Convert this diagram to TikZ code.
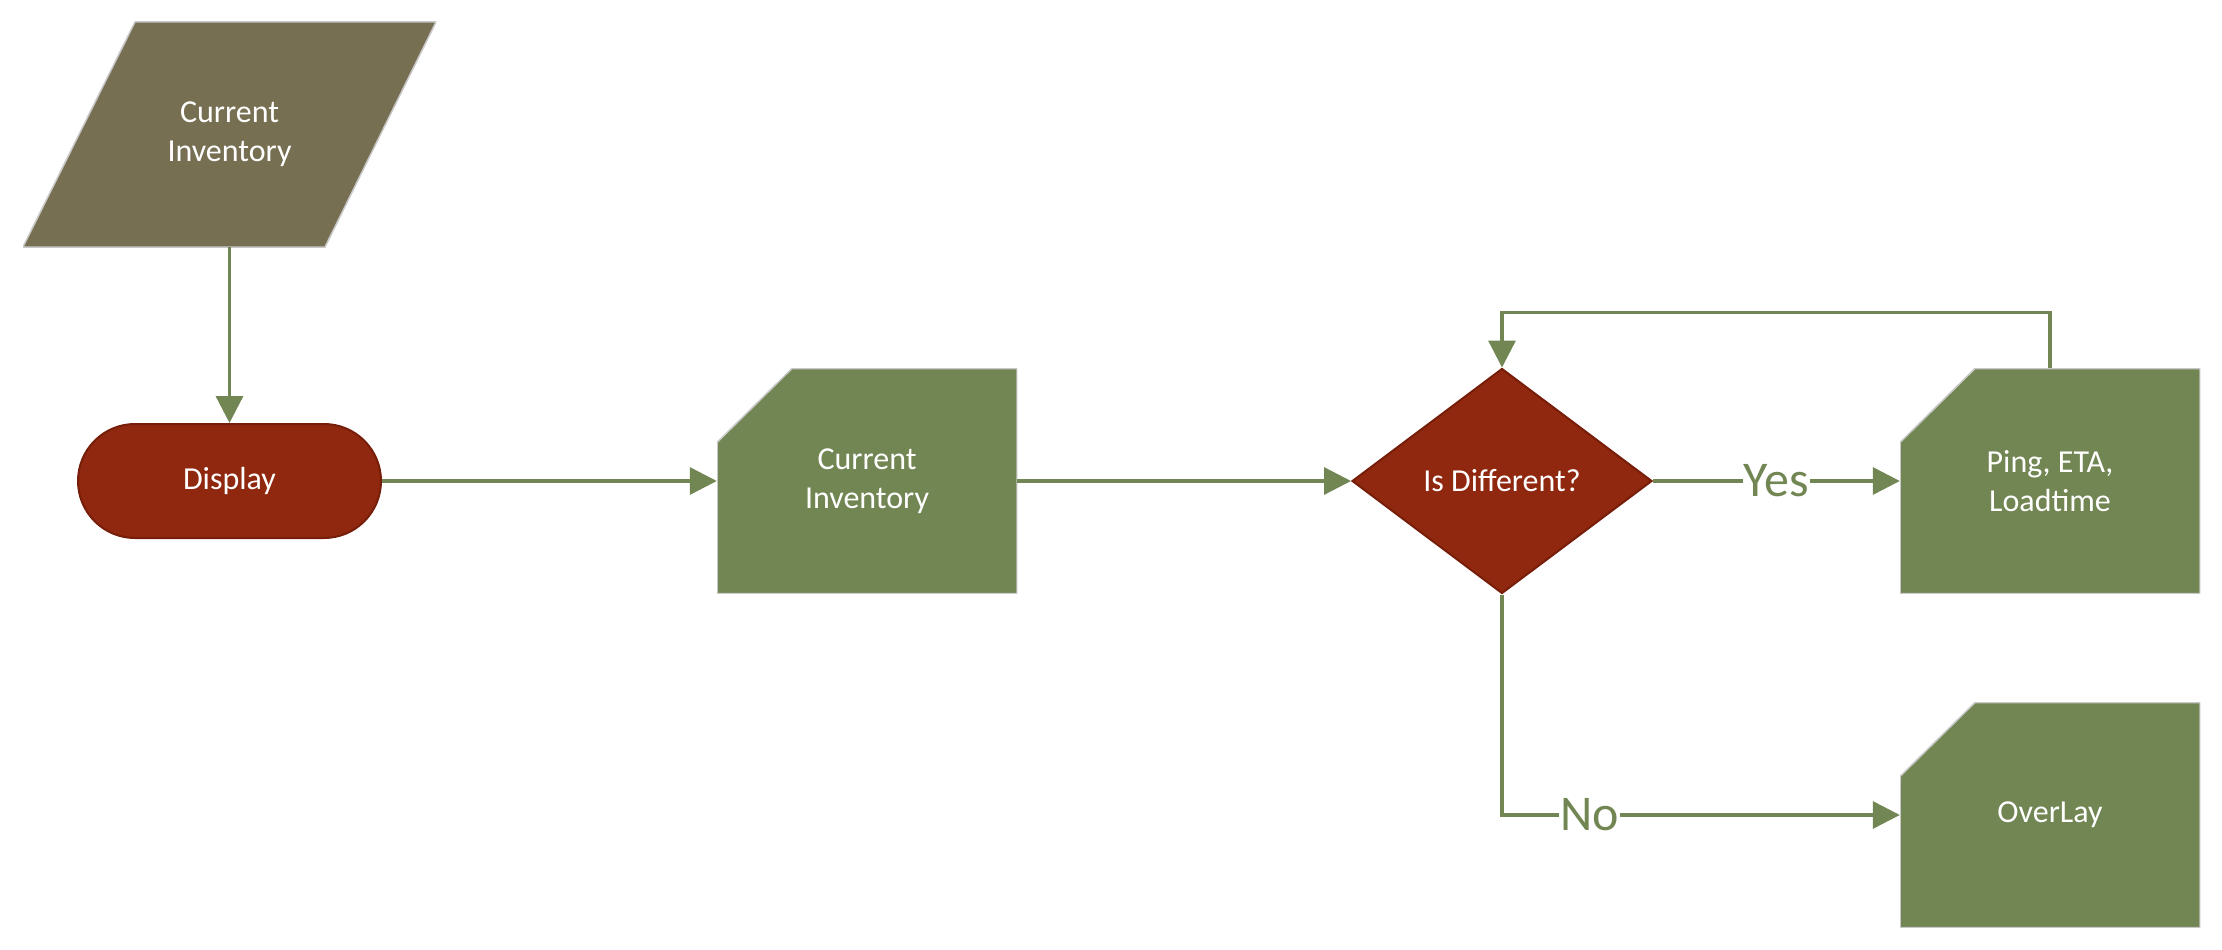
\documentclass[tikz,border=0pt]{standalone}
\usepackage{fontspec}
\setmainfont{Carlito}
\usetikzlibrary{arrows.meta,shapes.geometric,calc}
\definecolor{boxgreen}{RGB}{114,134,83}
\definecolor{linegreen}{RGB}{114,134,83}
\definecolor{parbrown}{RGB}{119,111,82}
\definecolor{darkred}{RGB}{143,40,14}
\definecolor{redline}{RGB}{118,30,10}
\definecolor{edgegray}{RGB}{200,200,200}
\begin{document}
\begin{tikzpicture}[x=1pt,y=-1pt,
  every node/.style={font=\fontsize{32}{39}\selectfont, text=white, align=center},
  cutbox/.style={minimum width=300pt, minimum height=225pt, inner sep=0pt,
    path picture={\fill[boxgreen, draw=edgegray, line width=1.5pt]
      ([yshift=-74pt]path picture bounding box.north west) --
      ([xshift=75pt]path picture bounding box.north west) --
      (path picture bounding box.north east) --
      (path picture bounding box.south east) --
      (path picture bounding box.south west) -- cycle;}},
  parbox/.style={minimum width=413pt, minimum height=225pt, inner sep=0pt,
    path picture={\fill[parbrown, draw=edgegray, line width=1.5pt]
      (path picture bounding box.south west) --
      ([xshift=302pt]path picture bounding box.south west) --
      (path picture bounding box.north east) --
      ([xshift=-301pt]path picture bounding box.north east) -- cycle;}},
  termbox/.style={rectangle, rounded corners=57pt, minimum width=303pt, minimum height=114pt,
    fill=darkred, draw=redline, line width=2pt},
  decbox/.style={diamond, minimum width=300pt, minimum height=225pt, inner sep=0pt,
    fill=darkred, draw=redline, line width=2pt},
  conn/.style={draw=linegreen, line width=3.3pt, -{Triangle[length=27pt,width=27pt]}},
  plainconn/.style={draw=linegreen, line width=3.3pt},
  lbl/.style={fill=white, text=linegreen, font=\fontsize{50}{60}\selectfont, inner sep=1pt}
]
\useasboundingbox (0,0) rectangle (2222,950);

\node[parbox] (par) at (229.5,134.5) {Current\\Inventory};
\node[termbox] (disp) at (229.5,481) {Display};
\node[cutbox] (ci) at (867,481) {Current\\Inventory};
\node[decbox] (dia) at (1502,481) {Is Different?};
\node[cutbox] (ping) at (2050,481) {Ping, ETA,\\Loadtime};
\node[cutbox] (over) at (2050,815) {OverLay};

\draw[conn] (par) -- (disp);
\draw[conn] (disp.east) -- (ci.west);
\draw[conn] (ci.east) -- (dia.west);
\draw[conn] (dia.east) -- node[lbl]{Yes} (ping.west);
\draw[conn] (ping.north) -- ++(0,-56) -| (dia.north);
\draw[conn] (dia.south) |- node[lbl,pos=0.61]{No} (over.west);
\end{tikzpicture}
\end{document}
